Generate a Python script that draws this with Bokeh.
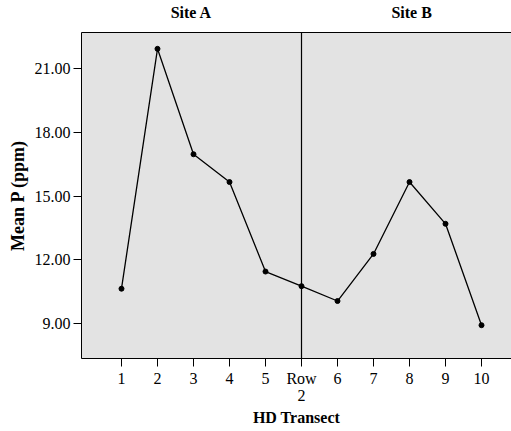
from bokeh.plotting import figure
from bokeh.models import FixedTicker, PrintfTickFormatter, Span, LinearAxis, Range1d
from bokeh.embed import file_html
from bokeh.resources import INLINE

transects = ["1", "2", "3", "4", "5", "Row\n2", "6", "7", "8", "9", "10"]
mean_p = [10.63, 21.94, 16.97, 15.66, 11.44, 10.75, 10.05, 12.27, 15.66, 13.69, 8.91]
y_ticks = [9, 12, 15, 18, 21]
sites = ["Site A", "Site B"]
site_centers = [1.94, 8.06]
divider = 5
x_title = "HD Transect"
y_title = "Mean P (ppm)"

xs = list(range(len(transects)))

FONT = "Liberation Serif"

p = figure(width=511, height=431, output_backend="svg", toolbar_location=None,
           x_range=Range1d(-1.111, 10.833), y_range=Range1d(7.34, 22.71),
           min_border_left=81, min_border_right=0, min_border_top=31, min_border_bottom=73)
p.background_fill_color = "#e3e3e3"
p.border_fill_color = "white"
p.outline_line_color = None
p.grid.visible = False

p.line(xs, mean_p, line_color="black", line_width=1.3)
p.scatter(xs, mean_p, size=5, color="black")
p.add_layout(Span(location=divider, dimension="height", line_color="black", line_width=1.2))

xa = p.xaxis[0]
xa.ticker = FixedTicker(ticks=xs)
xa.major_label_overrides = {i: t for i, t in zip(xs, transects)}
xa.axis_label = x_title
ya = p.yaxis[0]
ya.ticker = FixedTicker(ticks=y_ticks)
ya.formatter = PrintfTickFormatter(format="%.2f")
ya.axis_label = y_title

for ax in (xa, ya):
    ax.axis_line_color = "black"
    ax.major_tick_line_color = "black"
    ax.major_tick_out = 8
    ax.major_tick_in = 0
    ax.minor_tick_line_color = None
    ax.major_label_text_font = FONT
    ax.major_label_text_font_size = "16px"
    ax.major_label_text_line_height = 1.0
    ax.major_label_text_color = "black"
    ax.axis_label_text_font = FONT
    ax.axis_label_text_font_style = "bold"
    ax.axis_label_text_color = "black"
    ax.axis_label_text_line_height = 1.0
xa.axis_label_text_font_size = "16px"
ya.axis_label_text_font_size = "18px"
xa.major_label_standoff = 3
xa.axis_label_standoff = 2
ya.major_label_standoff = 3
ya.axis_label_standoff = 4

top = LinearAxis(ticker=FixedTicker(ticks=site_centers),
                 major_label_overrides={c: s for c, s in zip(site_centers, sites)})
top.axis_line_color = "black"
top.major_tick_line_color = None
top.minor_tick_line_color = None
top.major_label_standoff = 6
top.major_label_text_font = FONT
top.major_label_text_font_size = "16px"
top.major_label_text_font_style = "bold"
top.major_label_text_color = "black"
p.add_layout(top, "above")

open("out.html", "w").write(file_html(p, INLINE))
